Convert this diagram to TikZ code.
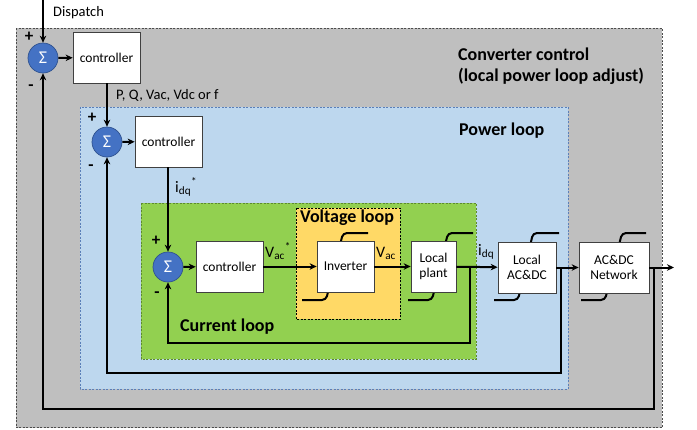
\documentclass[tikz,border=0pt]{standalone}
\usepackage{fontspec}
\setmainfont{Carlito}
\usetikzlibrary{arrows.meta}
\definecolor{graybg}{HTML}{BFBFBF}
\definecolor{bluebg}{HTML}{BDD7EE}
\definecolor{greenbg}{HTML}{92D050}
\definecolor{yellowbg}{HTML}{FFD966}
\definecolor{sumblue}{HTML}{4472C4}
\definecolor{sumedge}{HTML}{2F528F}
\definecolor{bluedash}{HTML}{5B7FB8}
\definecolor{greendash}{HTML}{5E8A2E}
\begin{document}
\begin{tikzpicture}[x=1pt,y=-1pt,
  region/.style={dashed, line width=0.6pt, dash pattern=on 2pt off 1.5pt},
  blk/.style={draw=black!75, fill=white, line width=0.7pt, align=center,
    font=\fontsize{13.5}{15.5}\selectfont, inner sep=1pt},
  sumnode/.style={circle, fill=sumblue, draw=sumedge, line width=0.7pt,
    minimum size=30pt, inner sep=0pt, text=white, font=\fontsize{18}{18}\selectfont},
  arr/.style={line width=2pt, -{Stealth[length=7pt,width=6.5pt]}},
  stepline/.style={line width=2pt, rounded corners=4pt},
  ttl/.style={font=\fontsize{18}{21}\selectfont\bfseries, anchor=west, inner sep=0pt, align=left},
  sml/.style={font=\fontsize{14.5}{16}\selectfont, inner sep=0pt},
  sig/.style={font=\fontsize{16}{18}\selectfont, inner sep=0pt},
  pm/.style={font=\fontsize{17}{18}\selectfont\bfseries, inner sep=0pt}]
\useasboundingbox (0,0) rectangle (697,429);
% regions
\fill[graybg] (16,28) rectangle (662,427.5);
\draw[region, draw=black!70] (16,28) rectangle (662,427.5);
\fill[bluebg] (80,107) rectangle (568,389);
\draw[region, draw=bluedash] (80,107) rectangle (568,389);
\fill[greenbg] (141,203) rectangle (476,359);
\draw[region, draw=greendash] (141,203) rectangle (476,359);
\fill[yellowbg] (296,208) rectangle (400,319);
\draw[region, draw=black] (296,208) rectangle (400,319);
% titles
\node[ttl] (tconv) at (458,66) {Converter control\\(local power loop adjust)};
\node[ttl] (tpow) at (459,131) {Power loop};
\node[ttl] (tvolt) at (300,218) {Voltage loop};
\node[ttl] (tcur) at (180,327) {Current loop};
% step glyphs
\draw[stepline] (302,300) -- (326,300) -- (343,233) -- (368,233);
\draw[stepline] (408,300) -- (432,300) -- (448,233) -- (473,233);
\draw[stepline] (494,300) -- (518,300) -- (533,233) -- (559,233);
\draw[stepline] (581,300) -- (605,300) -- (622,233) -- (646,233);
% blocks
\node[sumnode] (s1) at (43,58) {Σ};
\node[sumnode] (s2) at (107,142) {Σ};
\node[sumnode] (s3) at (168,267) {Σ};
\node[blk, minimum width=67pt, minimum height=51pt] (c1) at (106.5,57.5) {controller};
\node[blk, minimum width=67pt, minimum height=51pt] (c2) at (168.5,141.5) {controller};
\node[blk, minimum width=67pt, minimum height=51pt] (c3) at (229.5,266.5) {controller};
\node[blk, minimum width=57pt, minimum height=51pt] (inv) at (345.5,266.5) {Inverter};
\node[blk, minimum width=45pt, minimum height=51pt] (plant) at (433.5,266.5) {Local\\plant};
\node[blk, minimum width=58pt, minimum height=51pt] (lacdc) at (527,267.5) {Local\\AC\&DC};
\node[blk, minimum width=70pt, minimum height=51pt] (net) at (614,267.5) {AC\&DC\\Network};
% coordinates
\coordinate (top) at (43,0);
\coordinate (out) at (674,267.5);
\coordinate (f1) at (470,267.5);
\coordinate (b1) at (470,343);
\coordinate (f2) at (561,267.5);
\coordinate (b2) at (561,373);
\coordinate (f3) at (654,267.5);
\coordinate (b3) at (654,409);
% forward path
\draw[arr] (top) -- (s1);
\draw[arr] (s1) -- (c1);
\draw[arr] (c1.south -| s2) -- (s2);
\draw[arr] (s2) -- (c2);
\draw[arr] (c2.south -| s3) -- (s3);
\draw[arr] (s3) -- (c3);
\draw[arr] (c3) -- (inv);
\draw[arr] (inv) -- (plant);
\draw[arr] (plant) -- (lacdc);
\draw[arr] (lacdc) -- (net);
\draw[arr] (net) -- (out);
% feedback
\draw[arr] (f1) -- (b1) -| (s3.south);
\draw[arr] (f2) -- (b2) -| (s2.south);
\draw[arr] (f3) -- (b3) -| (s1.south);
% signal labels
\node[sml, anchor=west] (ldisp) at (53,13) {Dispatch};
\node[sml, anchor=west] (lpq) at (116,95) {P, Q, Vac, Vdc or f};
\node[sig, anchor=base west] (lidqs) at (175,192) {i\textsubscript{dq}\textsuperscript{*}};
\node[sig, anchor=base west] (lvacs) at (265,257) {V\textsubscript{ac}\textsuperscript{*}};
\node[sig, anchor=base west] (lvac) at (376,257) {V\textsubscript{ac}};
\node[sig, anchor=base west] (lidq) at (478,255) {i\textsubscript{dq}};
% signs
\node[pm] (p1) at (29,37) {+};
\node[pm] (m1) at (31,88) {-};
\node[pm] (p2) at (92,118) {+};
\node[pm] (m2) at (91,168) {-};
\node[pm] (p3) at (156,241) {+};
\node[pm] (m3) at (157,295) {-};
\end{tikzpicture}
\end{document}
